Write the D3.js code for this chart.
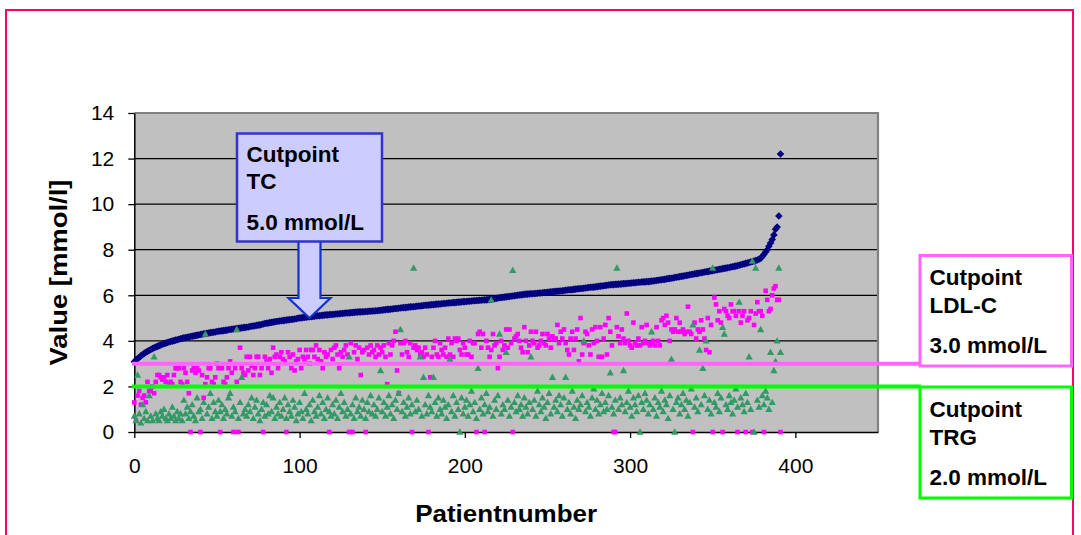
<!DOCTYPE html>
<html><head><meta charset="utf-8">
<script src="https://cdn.jsdelivr.net/npm/d3@7"></script>
<style>body{margin:0;background:#fff;} svg{display:block;font-family:"Liberation Sans",Arial,sans-serif;}</style>
</head><body><svg id="c" width="1081" height="535"></svg>
<script>
// ---- data (patients are numbered by array index) ----
const tc = [
3.08,3.15,3.22,3.28,3.34,3.40,3.45,3.50,3.54,3.58,
3.62,3.66,3.70,3.73,3.76,3.79,3.82,3.85,3.88,3.90,
3.93,3.95,3.97,3.99,4.01,4.03,4.05,4.07,4.09,4.11,
4.13,4.14,4.16,4.17,4.19,4.20,4.22,4.23,4.25,4.26,
4.28,4.29,4.31,4.32,4.33,4.34,4.36,4.37,4.38,4.39,
4.41,4.42,4.43,4.44,4.45,4.46,4.47,4.49,4.50,4.51,
4.52,4.53,4.54,4.55,4.56,4.57,4.58,4.59,4.60,4.61,
4.63,4.64,4.65,4.66,4.68,4.69,4.70,4.72,4.74,4.76,
4.77,4.78,4.80,4.81,4.82,4.84,4.85,4.86,4.87,4.88,
4.89,4.90,4.91,4.92,4.93,4.94,4.95,4.96,4.97,4.99,
5.00,5.01,5.02,5.03,5.04,5.05,5.06,5.06,5.07,5.08,
5.09,5.10,5.10,5.11,5.12,5.13,5.14,5.14,5.15,5.16,
5.16,5.17,5.18,5.18,5.19,5.20,5.20,5.21,5.22,5.22,
5.23,5.24,5.24,5.25,5.26,5.26,5.27,5.27,5.28,5.28,
5.29,5.29,5.30,5.30,5.31,5.31,5.32,5.32,5.33,5.34,
5.35,5.36,5.37,5.38,5.38,5.39,5.40,5.41,5.42,5.42,
5.43,5.44,5.45,5.46,5.46,5.47,5.48,5.49,5.50,5.50,
5.51,5.52,5.53,5.53,5.54,5.55,5.56,5.56,5.57,5.58,
5.59,5.59,5.60,5.61,5.61,5.62,5.63,5.64,5.64,5.65,
5.66,5.66,5.67,5.68,5.68,5.69,5.70,5.70,5.71,5.72,
5.72,5.73,5.74,5.74,5.75,5.76,5.76,5.77,5.77,5.78,
5.78,5.79,5.80,5.80,5.81,5.82,5.83,5.84,5.85,5.86,
5.88,5.89,5.90,5.91,5.92,5.93,5.94,5.95,5.96,5.97,
5.98,5.99,6.00,6.01,6.02,6.03,6.04,6.05,6.05,6.06,
6.07,6.07,6.08,6.08,6.09,6.10,6.10,6.11,6.12,6.12,
6.13,6.14,6.15,6.15,6.16,6.17,6.18,6.19,6.19,6.20,
6.21,6.22,6.23,6.24,6.24,6.25,6.26,6.27,6.28,6.29,
6.30,6.30,6.31,6.32,6.33,6.34,6.35,6.35,6.36,6.37,
6.38,6.39,6.40,6.41,6.42,6.43,6.44,6.45,6.46,6.47,
6.47,6.48,6.48,6.49,6.49,6.50,6.51,6.51,6.52,6.53,
6.53,6.54,6.55,6.55,6.56,6.57,6.57,6.58,6.59,6.59,
6.60,6.60,6.61,6.62,6.63,6.64,6.65,6.66,6.67,6.68,
6.69,6.70,6.72,6.73,6.74,6.75,6.76,6.78,6.79,6.80,
6.82,6.83,6.84,6.86,6.87,6.88,6.90,6.91,6.92,6.94,
6.95,6.96,6.98,6.99,7.00,7.02,7.03,7.04,7.06,7.07,
7.08,7.10,7.11,7.12,7.14,7.15,7.17,7.18,7.19,7.21,
7.22,7.24,7.25,7.27,7.28,7.30,7.32,7.34,7.36,7.38,
7.40,7.42,7.44,7.46,7.48,7.50,7.52,7.55,7.58,7.62,
7.70,7.80,7.90,8.00,8.15,8.30,8.45,8.65,8.90,9.00,
9.48,12.2];
const ldl = [
1.3,0.5,1.6,1.8,1.2,1.5,1.6,1.3,2.2,1.8,
1.8,2.0,1.7,2.2,2.5,2.5,2.4,2.3,2.4,2.2,
2.5,2.1,2.2,2.1,2.5,2.8,2.8,2.8,2.2,2.1,
2.8,2.6,2.2,1.7,0,2.7,2.8,2.6,2.8,2.7,
0,2.5,1.5,2.1,2.4,2.8,2.8,2.2,2.1,2.4,
3.0,2.8,0,2.8,2.2,2.1,2.4,2.8,3.1,2.6,
0,2.8,2.2,0,3.7,2.8,2.6,2.5,3.3,2.7,
3.3,2.9,2.5,2.8,3.3,3.3,2.5,2.8,0,3.3,
3.1,2.8,3.2,2.6,3.7,3.3,3.4,2.8,3.3,3.5,
3.2,3.1,0,3.5,3.3,2.8,3.4,2.7,3.1,3.2,
3.6,2.8,3.3,3.2,3.6,3.3,3.0,3.6,3.6,3.3,
3.8,3.2,3.6,3.1,2.8,3.5,3.3,3.4,0,3.6,
3.2,3.7,3.8,3.4,2.8,3.5,3.3,3.6,3.8,3.4,
0,3.9,0,3.5,3.8,3.2,3.7,2.5,3.5,3.6,
0,3.7,3.4,3.8,3.5,3.6,3.3,3.8,3.4,3.7,
3.5,3.8,3.3,2.1,3.9,3.4,3.8,4.0,4.4,2.7,
1.7,3.9,3.4,3.9,4.0,3.5,3.3,3.9,0,3.7,
3.8,3.6,3.7,3.4,3.5,3.3,3.7,3.4,0,2.4,
3.3,3.7,4.0,3.4,3.3,3.9,3.6,3.4,3.7,3.3,
4.1,3.4,3.9,3.3,4.1,4.0,4.1,3.6,3.4,3.9,
3.7,3.4,3.4,4.0,3.3,3.9,3.9,0,4.3,4.4,
3.7,4.3,0,4.0,3.7,3.3,3.6,4.3,3.8,3.9,
2.8,3.3,4.0,3.6,3.8,4.5,3.7,4.5,3.9,0,
4.1,4.2,4.3,4.0,3.7,3.5,4.6,4.0,3.5,3.8,
4.4,4.0,3.9,4.4,3.7,3.8,4.0,4.3,3.9,3.8,
4.3,4.1,3.7,4.2,4.1,4.1,4.7,3.9,4.4,4.1,
4.5,3.9,3.6,3.4,4.1,4.4,3.6,4.1,4.5,3.1,
5.0,3.4,3.9,4.4,4.3,3.8,3.4,4.5,3.9,4.6,
4.0,3.3,4.6,3.3,4.1,4.7,3.4,5.0,4.4,3.8,
0,0,4.6,4.2,3.9,4.5,4.1,3.9,5.2,4.0,
3.8,3.7,4.8,3.9,3.8,4.1,3.8,4.6,3.9,4.0,
4.7,3.9,3.8,3.9,4.0,3.8,4.6,4.0,3.8,4.9,
5.0,4.7,5.1,4.8,4.0,4.5,4.4,4.5,5.0,4.4,
4.8,4.4,4.5,4.3,4.4,5.5,4.4,4.3,0,4.8,
4.1,4.5,4.4,4.9,4.5,4.1,3.6,5.0,3.5,4.7,
0,5.9,5.6,4.9,5.3,4.8,0,5.4,5.3,5.1,
5.0,5.6,5.3,5.3,5.1,0,5.3,4.8,5.1,5.3,
0,4.9,5.0,5.3,0,4.7,5.2,5.7,5.3,5.3,
5.1,0,6.2,5.8,5.3,5.4,6.0,6.3,6.4,5.8,
5.8,0];
const trg = [
0.7,0.5,2.5,0.8,0.4,1.2,0.6,0.9,0.5,1.6,
0.7,0.5,3.3,0.8,0.6,0.5,0.9,0.7,1.0,0.6,
0.5,0.8,0.6,1.1,0.7,0.5,0.9,0.6,0.8,0.5,
1.4,0.8,1.1,0.6,0.9,1.2,0.7,0.5,1.5,0.9,
1.0,0.6,1.3,4.3,0.8,1.1,1.7,0.6,1.3,0.9,
0.7,1.4,0.9,1.2,0.6,1.0,0.8,1.5,1.7,0.7,
1.1,0.9,4.5,0.6,1.3,2.4,0.8,1.0,0.7,1.2,
0.9,1.5,0.6,1.1,1.4,0.8,0.5,1.0,1.3,0.7,
1.2,0.8,1.6,0.9,1.5,0.6,1.1,0.8,1.3,0.7,
1.0,1.5,0.6,1.2,0.9,0.7,1.4,1.1,0.5,0.8,
1.3,0.9,0.6,1.7,1.0,0.8,1.2,0.5,1.4,0.9,
0.7,1.1,1.6,0.8,1.3,0.6,1.0,1.5,0.9,0.7,
1.2,0.8,1.4,0.6,1.1,1.7,0.9,1.3,0.7,1.0,
3.3,0.8,1.2,0.6,1.5,0.9,1.1,0.7,1.4,1.0,
0.6,1.3,0.9,1.6,0.8,1.2,0.7,1.0,1.5,2.7,
0.9,1.3,0.7,1.1,1.6,0.8,1.2,0.6,1.4,1.0,
1.7,4.5,0.9,1.3,0.7,1.1,1.5,0.8,1.2,7.2,
0.9,1.4,1.0,3.3,0.7,2.4,1.2,0.8,1.6,1.1,
0.9,2.4,1.3,0.7,1.5,1.0,0.8,1.4,1.1,0.6,
1.2,3.2,0.9,1.6,0.7,1.3,1.0,0,1.5,0.8,
1.1,1.4,0.7,1.2,1.8,0.9,1.3,0.6,2.8,1.0,
1.5,0.8,1.2,1.7,0.9,1.1,5.8,0.7,1.4,1.0,
1.6,4.3,0.8,1.2,1.0,3.5,1.4,0.7,1.1,7.1,
1.3,0.9,1.6,1.0,1.2,0.7,1.5,1.1,0.8,1.3,
3.3,1.0,1.4,0.7,1.8,1.2,0.9,1.5,1.1,0.6,
1.3,1.7,0.8,2.4,1.1,1.4,0.9,1.6,1.2,0.7,
1.5,2.4,1.0,1.3,0.8,1.8,1.1,0.6,1.4,1.0,
1.2,1.6,4.0,0.9,1.3,1.1,0.7,1.5,1.9,1.0,
1.4,0.8,1.2,1.7,0.9,1.3,1.0,1.6,2.6,1.1,
0.8,1.4,7.2,1.0,1.5,1.2,2.7,0.9,1.3,1.8,
1.1,0.7,1.5,1.2,0.9,1.6,0,1.3,1.0,1.7,
1.4,0.8,1.2,4.4,1.0,1.5,0.7,1.3,1.1,1.8,
0.9,1.4,1.2,0.6,1.6,3.2,1.0,0,1.3,1.5,
0.8,1.2,1.7,1.0,1.4,0.7,1.3,1.9,4.7,1.1,
1.5,0.9,3.6,1.2,2.8,1.6,4.0,1.0,1.4,0.8,
7.2,1.3,1.1,1.7,0.9,1.5,4.6,4.3,1.2,1.0,
1.6,1.3,0.8,1.4,1.9,1.1,5.7,1.5,1.2,0.9,
1.7,1.3,3.3,1.0,7.5,0,7.2,1.4,1.1,4.5,
1.6,1.2,1.8,1.5,1.0,3.5,1.3,2.7,3.1,4.0,
7.2,3.5];
const xTicks = [0,100,200,300,400];
const yTicks = [0,2,4,6,8,10,12,14];
const xTitle = "Patientnumber";
const yTitle = "Value [mmol/l]";
const cutTC  = {lines:["Cutpoint","TC","5.0 mmol/L"], value:5.0, patient:106};
const cutLDL = {lines:["Cutpoint","LDL-C","3.0 mmol/L"], value:3.0};
const cutTRG = {lines:["Cutpoint","TRG","2.0 mmol/L"], value:2.0};

// ---- drawing ----
const svg = d3.select('#c');
const x = d3.scaleLinear().domain([0,450]).range([134.3,878]);
const y = d3.scaleLinear().domain([0,14]).range([432,113]);
const idx = d3.range(tc.length);

svg.append('rect').attr('x',6).attr('y',10).attr('width',1067).attr('height',580)
  .attr('fill','none').attr('stroke','#FF0066').attr('stroke-width',2);

svg.append('rect').attr('x',x(0)).attr('y',y(14)).attr('width',x(450)-x(0)).attr('height',y(0)-y(14))
  .attr('fill','#C0C0C0');
svg.append('g').selectAll('line').data(yTicks.filter(d=>d>0&&d<14)).join('line')
  .attr('x1',x(0)).attr('x2',x(450)).attr('y1',d=>y(d)).attr('y2',d=>y(d))
  .attr('stroke','#000').attr('stroke-width',1.3);
svg.append('path').attr('d',`M${x(0)},${y(14)}H${x(450)}V${y(0)}`)
  .attr('fill','none').attr('stroke','#808080').attr('stroke-width',2.2);

const ax = svg.append('g').attr('transform',`translate(0,${y(0)})`)
  .call(d3.axisBottom(x).tickValues(xTicks).tickSize(6).tickSizeOuter(0).tickPadding(20).tickFormat(d3.format('d')));
const ay = svg.append('g').attr('transform',`translate(${x(0)},0)`)
  .call(d3.axisLeft(y).tickValues(yTicks).tickSize(6).tickSizeOuter(0).tickPadding(14).tickFormat(d3.format('d')));
[ax,ay].forEach(g=>{
  g.selectAll('text').attr('font-size',21).attr('fill','#000').attr('font-family','"Liberation Sans",Arial,sans-serif');
  g.selectAll('line').attr('stroke','#000').attr('stroke-width',1.3);
  g.select('.domain').attr('stroke','#000').attr('stroke-width',1.5);
});

// series
const gTC = svg.append('g');
gTC.selectAll('path').data(idx).join('path')
  .attr('d',i=>{const cx=x(i),cy=y(tc[i]);return `M${cx},${cy-3.8}L${cx+3.8},${cy}L${cx},${cy+3.8}L${cx-3.8},${cy}Z`;})
  .attr('fill','#000080');
const gL = svg.append('g');
gL.selectAll('rect').data(idx).join('rect')
  .attr('x',i=>x(i)-2.3).attr('y',i=>y(ldl[i])-2.3).attr('width',4.6).attr('height',4.6)
  .attr('fill','#FF00FF');
const gT = svg.append('g');
gT.selectAll('path').data(idx).join('path')
  .attr('d',i=>{const cx=x(i),cy=y(trg[i]);return `M${cx},${cy-3.7}L${cx+3.6},${cy+2.7}L${cx-3.6},${cy+2.7}Z`;})
  .attr('fill','#339966');

// axis titles
svg.append('text').attr('x',(x(0)+x(450))/2).attr('y',522).attr('text-anchor','middle')
  .attr('font-size',23).attr('font-weight','bold').attr('textLength',182).attr('lengthAdjust','spacingAndGlyphs').text(xTitle);
svg.append('text').attr('transform',`translate(67,${(y(0)+y(14))/2}) rotate(-90)`).attr('text-anchor','middle')
  .attr('font-size',23).attr('font-weight','bold').attr('textLength',186).attr('lengthAdjust','spacingAndGlyphs').text(yTitle);

// cutpoint lines
svg.append('line').attr('x1',132).attr('x2',921).attr('y1',y(cutLDL.value)).attr('y2',y(cutLDL.value))
  .attr('stroke','#FF66FF').attr('stroke-width',4);
svg.append('line').attr('x1',132).attr('x2',921).attr('y1',y(cutTRG.value)).attr('y2',y(cutTRG.value))
  .attr('stroke','#00FF00').attr('stroke-width',4);

function box(c, bx, by, bw, bh, stroke, fill, sw, offs){
  svg.append('rect').attr('x',bx).attr('y',by).attr('width',bw).attr('height',bh)
    .attr('fill',fill).attr('stroke',stroke).attr('stroke-width',sw);
  c.lines.forEach((t,k)=>svg.append('text').attr('x',bx+9.5).attr('y',by+offs[k])
    .attr('font-size',22.5).attr('font-weight','bold').attr('fill','#000').text(t));
}
// TC arrow
const tipX = x(cutTC.patient), tipY = y(cutTC.value);
svg.append('path').attr('d',`M${tipX-11},241 V298 H${tipX-21} L${tipX},${tipY} L${tipX+21},298 H${tipX+11} V241 Z`)
  .attr('fill','#CCCCFF').attr('stroke','#1133CC').attr('stroke-width',2.2);
box(cutTC, 237, 133.5, 145, 108, '#3333CC', '#CCCCFF', 2.5, [28.5,55,96.5]);
box(cutLDL, 920, 255.5, 151.5, 110.5, '#FF66FF', '#FFFFFF', 3, [29.5,57,97]);
box(cutTRG, 920, 387, 151.5, 111, '#00FF00', '#FFFFFF', 3, [29.5,57.5,97.5]);
</script></body></html>
